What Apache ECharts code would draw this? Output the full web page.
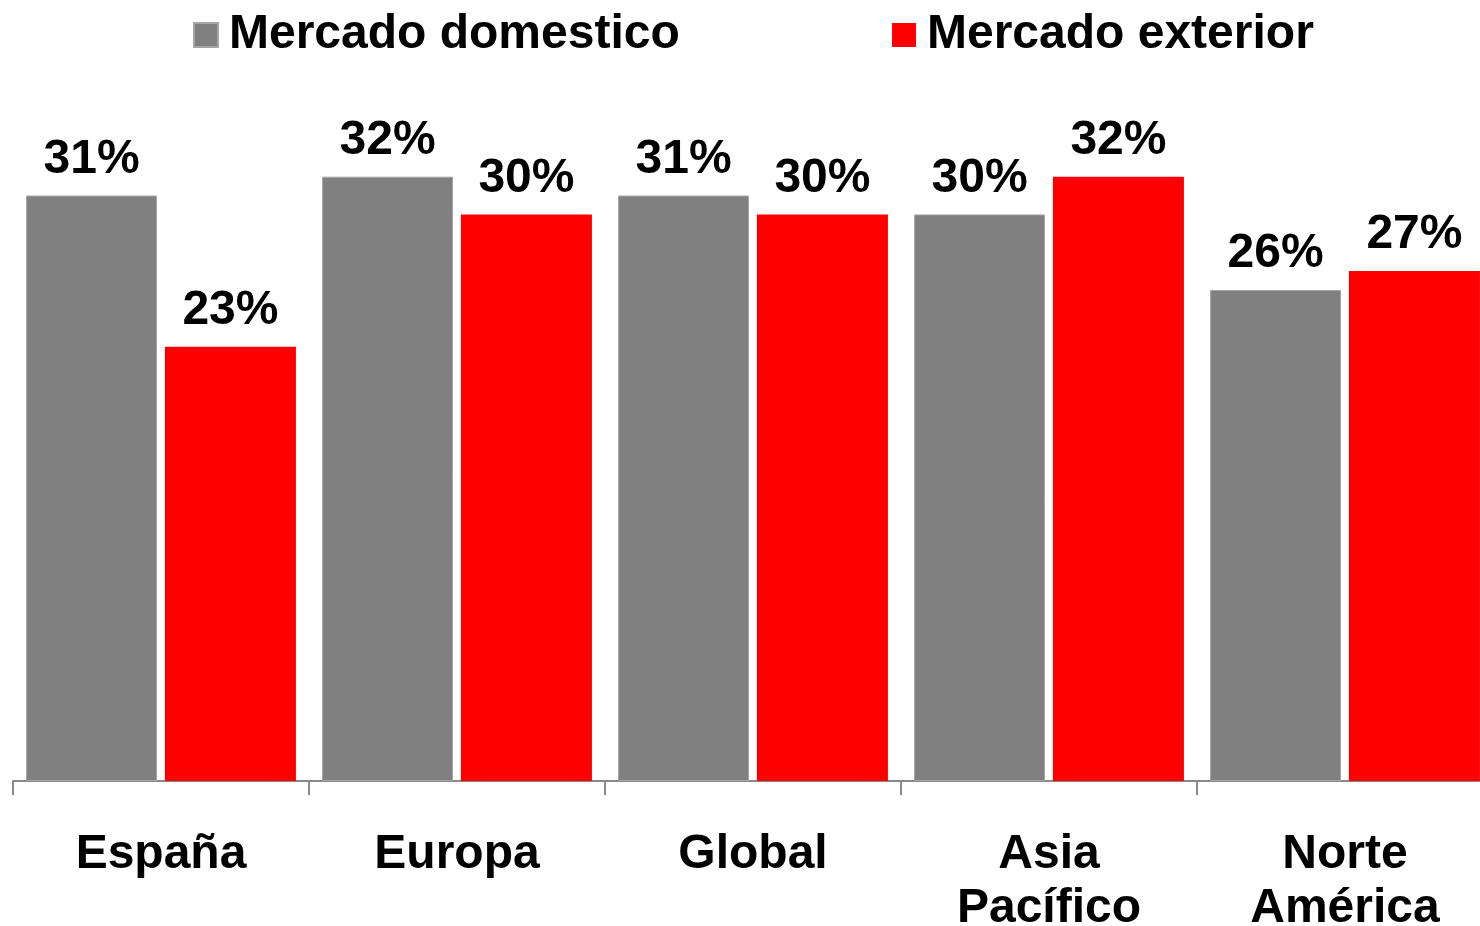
<!DOCTYPE html>
<html>
<head>
<meta charset="utf-8">
<script src="https://cdn.jsdelivr.net/npm/echarts@6/dist/echarts.min.js"></script>
<style>
  html, body { margin: 0; padding: 0; background: #ffffff; }
  #chart { width: 1480px; height: 926px; }
</style>
</head>
<body>
<div id="chart"></div>
<script>
// Regions (category axis)
const categories = ['España', 'Europa', 'Global', 'Asia\nPacífico', 'Norte\nAmérica'];
// Share per region, in percent
const domestico = [31, 32, 31, 30, 26];
const exterior = [23, 30, 30, 32, 27];
const seriesNames = ['Mercado domestico', 'Mercado exterior'];

const FONT = '"Liberation Sans", Arial, sans-serif';
const GRAY = '#808080';
const RED = '#ff0000';

const chart = echarts.init(document.getElementById('chart'), null, { renderer: 'canvas' });

const labelStyle = {
  show: true,
  position: 'top',
  distance: 12,
  formatter: '{c}%',
  color: '#000000',
  fontFamily: FONT,
  fontWeight: 'bold',
  fontSize: 48
};

const legendText = {
  color: '#000000',
  fontFamily: FONT,
  fontWeight: 'bold',
  fontSize: 48,
  padding: [0, 0, 0, 6]
};

chart.setOption({
  animation: false,
  backgroundColor: '#ffffff',
  legend: [
    {
      data: [seriesNames[0]],
      left: 193, top: 11, padding: 0,
      itemWidth: 24, itemHeight: 24, icon: 'rect',
      textStyle: legendText
    },
    {
      data: [seriesNames[1]],
      left: 892, top: 11, padding: 0,
      itemWidth: 24, itemHeight: 24, icon: 'rect',
      textStyle: legendText
    }
  ],
  // the last category runs slightly past the right edge of the canvas
  grid: { left: 13, right: -13, top: 120, bottom: 145, containLabel: false, outerBoundsMode: 'none' },
  xAxis: {
    type: 'category',
    data: categories,
    boundaryGap: true,
    axisLine: { show: true, lineStyle: { color: '#898989', width: 2 } },
    axisTick: { show: true, length: 14, lineStyle: { color: '#898989', width: 2 } },
    axisLabel: {
      color: '#000000',
      fontFamily: FONT,
      fontWeight: 'bold',
      fontSize: 48,
      lineHeight: 54,
      margin: 47,
      interval: 0
    }
  },
  yAxis: {
    type: 'value',
    min: 0,
    max: 35,
    show: false,
    splitLine: { show: false }
  },
  series: [
    {
      name: seriesNames[0],
      type: 'bar',
      data: domestico,
      barWidth: 131,
      barGap: '6%',
      itemStyle: { color: GRAY, borderColor: '#a6a6a6', borderWidth: 1 },
      label: labelStyle
    },
    {
      name: seriesNames[1],
      type: 'bar',
      data: exterior,
      barWidth: 131,
      itemStyle: { color: RED },
      label: labelStyle
    }
  ]
});
</script>
</body>
</html>
